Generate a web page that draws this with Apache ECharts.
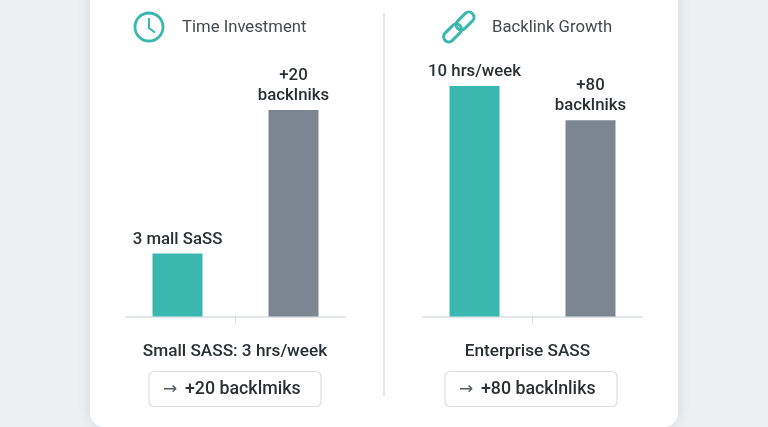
<!DOCTYPE html>
<html>
<head>
<meta charset="utf-8">
<title>Time Investment vs Backlink Growth</title>
<style>
	html, body { margin: 0; padding: 0; background: #eef0f2; }
	#chart { width: 768px; height: 427px; }
</style>
<script src="https://cdn.jsdelivr.net/npm/echarts@6/dist/echarts.min.js"></script>
</head>
<body>
<div id="chart"></div>
<script>
	const panelTitles = ['Time Investment', 'Backlink Growth'];
	const categories = ['Small SASS: 3 hrs/week', 'Enterprise SASS'];
	const hoursValues = [3, 10];
	const backlinkValues = [20, 80];
	const hoursLabels = ['3 mall SaSS', '10 hrs/week'];
	const backlinkLabels = ['+20\nbacklniks', '+80\nbacklniks'];
	const boxLabels = ['+20 backlmiks', '+80 backlnliks'];
	// bars are not on a shared scale in the picture, so each one gets its own hidden axis
	const hoursMax = [12.86, 11.74];
	const backlinkMax = [26.2, 110.2];

	const TEAL = '#3ab7ae';
	const GRAY = '#7b8690';
	const INK = '#2b2f33';

	const chart = echarts.init(document.getElementById('chart'));

	function barSeries(name, value, label, color, index, yIndex) {
		return {
			name: name,
			type: 'bar',
			xAxisIndex: index,
			yAxisIndex: yIndex,
			barWidth: 50,
			barGap: '132%',
			itemStyle: { color: color },
			label: {
				show: true,
				position: 'top',
				distance: 4,
				formatter: label,
				color: INK,
				fontFamily: 'Roboto',
				fontSize: 16.8,
				fontWeight: 500,
				lineHeight: 20
			},
			data: [value]
		};
	}

	function valueAxis(index, max) {
		return { type: 'value', gridIndex: index, min: 0, max: max, show: false };
	}

	function categoryAxis(index, labelPadding) {
		return {
			type: 'category',
			gridIndex: index,
			data: [categories[index]],
			axisLine: { lineStyle: { color: '#dcdfe1', width: 1.5 } },
			axisTick: { show: true, alignWithLabel: true, length: 7, lineStyle: { color: '#dcdfe1' } },
			axisLabel: { color: INK, fontFamily: 'Roboto', fontSize: 17.2, fontWeight: 500, margin: 27, padding: labelPadding }
		};
	}

	function boxGraphics(x, text) {
		return [
			{
				type: 'rect',
				shape: { x: x, y: 371.5, width: 172, height: 35, r: 5 },
				style: { fill: '#fff', stroke: '#dcdfe2', lineWidth: 1.2 }
			},
			{
				type: 'text',
				x: x + 14,
				y: 390,
				style: { text: '→', fill: '#555b60', font: '400 17px "DejaVu Sans"', textVerticalAlign: 'middle' }
			},
			{
				type: 'text',
				x: x + 36,
				y: 390,
				style: { text: text, fill: INK, font: '500 17.8px Roboto', textVerticalAlign: 'middle' }
			}
		];
	}

	function linkRing(x, y) {
		return {
			type: 'rect',
			x: x,
			y: y,
			rotation: Math.PI / 4,
			shape: { x: -10.5, y: -5.2, width: 21, height: 10.4, r: 5.2 },
			style: { fill: 'none', stroke: TEAL, lineWidth: 3 }
		};
	}

	const panelHeader = [
		{ type: 'text', x: 182, y: 28, style: { text: panelTitles[0], fill: '#44494d', font: '400 16.7px Roboto', textVerticalAlign: 'middle' } },
		{ type: 'text', x: 492, y: 28, style: { text: panelTitles[1], fill: '#44494d', font: '400 16.7px Roboto', textVerticalAlign: 'middle' } }
	];

	const icons = [
		{ type: 'circle', shape: { cx: 149, cy: 27, r: 14 }, style: { fill: 'none', stroke: TEAL, lineWidth: 2.8 } },
		{ type: 'polyline', shape: { points: [[149, 18], [149, 28], [155, 32.5]] }, style: { fill: 'none', stroke: TEAL, lineWidth: 2 } },
		linkRing(465, 21),
		linkRing(452.5, 33)
	];

	chart.setOption({
		animation: false,
		backgroundColor: '#eef0f2',
		graphic: {
			elements: [
				{
					type: 'rect',
					z: -10,
					shape: { x: 90, y: -30, width: 588, height: 457, r: 14 },
					style: { fill: '#fff', shadowBlur: 14, shadowColor: 'rgba(60, 70, 80, 0.14)' }
				},
				{
					type: 'line',
					shape: { x1: 384, y1: 13, x2: 384, y2: 396 },
					style: { stroke: '#cfd2d5', lineWidth: 1.2 }
				}
			].concat(panelHeader, icons, boxGraphics(149, boxLabels[0]), boxGraphics(445, boxLabels[1]))
		},
		grid: [
			{ left: 126, width: 219, top: 46, height: 270.5 },
			{ left: 423, width: 219, top: 46, height: 270.5 }
		],
		// the right label sits a little left of its tick in the reference
		xAxis: [categoryAxis(0, [0, 1, 0, 0]), categoryAxis(1, [0, 10, 0, 0])],
		yAxis: [
			valueAxis(0, hoursMax[0]),
			valueAxis(0, backlinkMax[0]),
			valueAxis(1, hoursMax[1]),
			valueAxis(1, backlinkMax[1])
		],
		series: [
			barSeries('Hours', hoursValues[0], hoursLabels[0], TEAL, 0, 0),
			barSeries('Backlinks', backlinkValues[0], backlinkLabels[0], GRAY, 0, 1),
			barSeries('Hours', hoursValues[1], hoursLabels[1], TEAL, 1, 2),
			barSeries('Backlinks', backlinkValues[1], backlinkLabels[1], GRAY, 1, 3)
		]
	});
</script>
</body>
</html>
